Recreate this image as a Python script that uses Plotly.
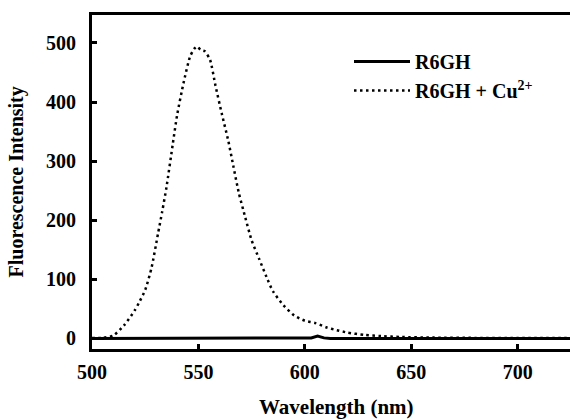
import plotly.graph_objects as go

# Data
wl_cu = [500, 505, 510, 515, 520, 522, 525, 528, 531, 533, 535, 538, 540, 543, 546, 548,
         549.5, 551, 553, 555.5, 558, 561, 564, 566.5, 569, 572, 575, 578.5, 582,
         585, 590, 595, 600, 605, 610, 615, 620, 628, 636, 645, 660, 680, 700, 725]
int_cu = [1, 1, 5, 22, 47, 60, 82, 120, 177, 215, 256, 330, 378, 432, 476, 490,
          494, 488, 486, 471, 428, 380, 335, 290, 246, 205, 166, 135, 104,
          80, 56, 39, 30, 26, 19, 14, 10, 6, 4, 2.5, 1.5, 1, 1, 1]

wl_free = [500, 550, 600, 603, 606, 609, 612, 650, 700, 725]
int_free = [0, 0, 0, 1, 4, 1, 0, 0, 0, 0]

x_ticks = [500, 550, 600, 650, 700]
y_ticks = [0, 100, 200, 300, 400, 500]

FONT = "Liberation Serif, Times New Roman, serif"
L, R, T, B = 92, 0, 15, 71
W, H = 570, 420
pw, ph = W - L - R, H - T - B

fig = go.Figure()
fig.add_trace(go.Scatter(
    x=wl_free, y=int_free, mode="lines", name="R6GH",
    line=dict(color="black", width=3),
))
fig.add_trace(go.Scatter(
    x=wl_cu, y=int_cu, mode="lines", name="R6GH + Cu<sup>2+</sup>",
    line=dict(color="black", width=2.5, dash="2.5px,3.5px", shape="spline", smoothing=0.6),
))

bold = dict(family=FONT, size=20, color="black", weight="bold")

fig.update_layout(
    width=W, height=H,
    margin=dict(l=L, r=R, t=T, b=B, autoexpand=False),
    plot_bgcolor="white", paper_bgcolor="white",
    font=bold,
    showlegend=True,
    legend=dict(
        x=(349 - L) / pw, y=(H - B - 42) / ph, xanchor="left", yanchor="top",
        bgcolor="rgba(0,0,0,0)", font=bold,
        itemwidth=56, tracegroupgap=0,
    ),
    xaxis=dict(
        range=[500, 724.6], tickvals=x_ticks, ticks="inside", ticklen=5, tickwidth=2.5,
        tickcolor="black", showline=True, linewidth=3, linecolor="black", mirror=True,
        showgrid=False, zeroline=False, automargin=False,
        tickfont=bold, ticklabelstandoff=3,
    ),
    yaxis=dict(
        range=[-17.8, 547.2], tickvals=y_ticks, ticks="inside", ticklen=5, tickwidth=2.5,
        tickcolor="black", showline=True, linewidth=3, linecolor="black", mirror=False,
        showgrid=False, zeroline=False, automargin=False,
        tickfont=bold, ticklabelstandoff=9,
    ),
    annotations=[
        dict(text="Wavelength (nm)", x=(336 - L) / pw, y=(H - B - 407) / ph,
             xref="paper", yref="paper", showarrow=False,
             xanchor="center", yanchor="middle",
             font=dict(family=FONT, size=21, color="black", weight="bold")),
        dict(text="Fluorescence Intensity", x=(15.5 - L) / pw, y=(H - B - 182) / ph,
             xref="paper", yref="paper", textangle=-90, showarrow=False,
             xanchor="center", yanchor="middle",
             font=dict(family=FONT, size=20, color="black", weight="bold")),
    ],
)

fig.write_html("out.html", config={"displayModeBar": False},
               post_script="document.body.style.margin='0';")
